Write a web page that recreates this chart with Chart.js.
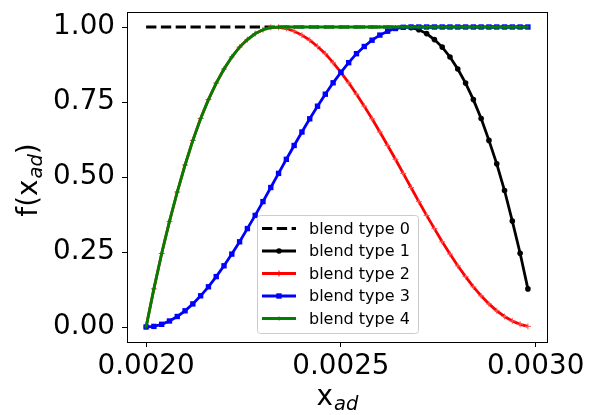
<!DOCTYPE html>
<html><head><meta charset="utf-8">
<script src="https://cdn.jsdelivr.net/npm/chart.js@4"></script>
<style>html,body{margin:0;padding:0;background:#fff}#wrap{width:589px;height:415px;position:relative}</style>
</head><body><div id="wrap"><canvas id="c"></canvas></div>
<script>
const xValues = [0.00200,0.00202,0.00204,0.00206,0.00208,0.00210,0.00212,0.00214,0.00216,0.00218,
  0.00220,0.00222,0.00224,0.00226,0.00228,0.00230,0.00232,0.00234,0.00236,0.00238,
  0.00240,0.00242,0.00244,0.00246,0.00248,0.00250,0.00252,0.00254,0.00256,0.00258,
  0.00260,0.00262,0.00264,0.00266,0.00268,0.00270,0.00272,0.00274,0.00276,0.00278,
  0.00280,0.00282,0.00284,0.00286,0.00288,0.00290,0.00292,0.00294,0.00296,0.00298];

const blendType0 = [1,1,1,1,1,1,1,1,1,1, 1,1,1,1,1,1,1,1,1,1, 1,1,1,1,1,1,1,1,1,1,
  1,1,1,1,1,1,1,1,1,1, 1,1,1,1,1,1,1,1,1,1];
const blendType1 = [null,null,null,null,null,null,null,null,null,null,
  null,null,null,null,null,null,null,null,null,null, null,null,null,null,null,
  null,null,null,null,null,null,null,null,null,
  0.998,0.991,0.978,0.958,0.933,0.900,0.860,0.813,0.758,0.695,0.622,0.544,0.455,0.353,0.246,0.127];
const blendType2 = [0,0.127,0.245,0.352,0.450,0.540,0.622,0.695,0.758,0.813,0.860,0.900,0.933,0.958,0.978,0.991,0.999,
  0.999,0.995,0.986,0.973,0.956,0.935,0.911,0.881,0.849,0.814,0.776,0.736,0.694,0.650,0.605,0.559,0.512,
  0.465,0.418,0.372,0.328,0.284,0.243,0.204,0.168,0.134,0.104,0.077,0.054,0.035,0.020,0.009,0.002];
const blendType3 = [0,0.002,0.009,0.020,0.035,0.054,0.077,0.104,0.134,0.168,0.204,0.243,0.284,0.328,0.372,0.418,0.465,
  0.512,0.559,0.605,0.650,0.694,0.736,0.776,0.814,0.849,0.881,0.911,0.935,0.956,0.973,0.986,0.995,0.999,
  1,1,1,1,1,1,1,1,1,1,1,1,1,1,1,1];
const blendType4 = [0,0.127,0.245,0.352,0.450,0.540,0.622,0.695,0.758,0.813,0.860,0.900,0.933,0.958,0.978,0.991,0.998,
  1,1,1,1,1,1,1,1,1,1,1,1,1,1,1,1,1, 1,1,1,1,1,1,1,1,1,1,1,1,1,1,1,1];

const seriesLabels = ['blend type 0','blend type 1','blend type 2','blend type 3','blend type 4'];
const xTickValues = [0.0020, 0.0025, 0.0030];
const xTickLabels = ['0.0020','0.0025','0.0030'];
const yTickValues = [0, 0.25, 0.5, 0.75, 1.0];
const yTickLabels = ['0.00','0.25','0.50','0.75','1.00'];

const FONT = "'DejaVu Sans', sans-serif";
function pts(ys){ return xValues.map((x,i)=>({x:x, y:ys[i]})); }

function drawMarker(ctx, style, r, x, y, color, bw){
  ctx.save();
  ctx.fillStyle = color; ctx.strokeStyle = color; ctx.lineWidth = bw;
  ctx.beginPath();
  if (style === 'circle') { ctx.arc(x, y, r, 0, Math.PI*2); ctx.fill(); }
  else if (style === 'rect') { const s = r*Math.SQRT1_2; ctx.rect(x-s, y-s, 2*s, 2*s); ctx.fill(); }
  else if (style === 'cross') { ctx.moveTo(x, y-r); ctx.lineTo(x, y+r); ctx.moveTo(x-r, y); ctx.lineTo(x+r, y); ctx.stroke(); }
  ctx.restore();
}

const framePlugin = {
  id: 'frame',
  afterDatasetsDraw(chart){
    const ctx = chart.ctx, a = chart.chartArea;
    ctx.save();
    ctx.strokeStyle = '#000'; ctx.lineWidth = 1;
    ctx.strokeRect(Math.round(a.left)+0.5, Math.round(a.top)+0.5, Math.round(a.right-a.left), Math.round(a.bottom-a.top));
    // legend
    const bx = 257, by = 215, bw = 161, bh = 118;
    ctx.beginPath();
    ctx.roundRect(bx+0.5, by+0.5, bw, bh, 3);
    ctx.fillStyle = 'rgba(255,255,255,0.8)'; ctx.fill();
    ctx.strokeStyle = '#cccccc'; ctx.lineWidth = 1; ctx.stroke();
    chart.data.datasets.forEach((ds, i) => {
      const y = by + 13.5 + i*22.5;
      ctx.beginPath();
      ctx.setLineDash(ds.borderDash || []);
      ctx.strokeStyle = ds.borderColor; ctx.lineWidth = ds.borderWidth;
      ctx.moveTo(262, y); ctx.lineTo(296, y); ctx.stroke();
      ctx.setLineDash([]);
      if (ds.pointRadius > 0) drawMarker(ctx, ds.pointStyle, ds.pointRadius, 279, y, ds.borderColor, ds.pointBorderWidth || 0);
      ctx.fillStyle = '#000'; ctx.font = '16px ' + FONT;
      ctx.textBaseline = 'middle'; ctx.textAlign = 'left';
      ctx.fillText(ds.label, 309, y + 1);
    });
    ctx.restore();
  },
  afterDraw(chart){
    const ctx = chart.ctx, a = chart.chartArea;
    ctx.save();
    ctx.fillStyle = '#000'; ctx.textBaseline = 'alphabetic'; ctx.textAlign = 'left';
    const big = '27.8px ' + FONT, sub = 'italic 19.5px ' + FONT;
    // x title
    ctx.font = big; const wx = ctx.measureText('x').width;
    ctx.font = sub; const wad = ctx.measureText('ad').width;
    let x0 = (a.left + a.right)/2 - (wx + wad)/2;
    ctx.font = big; ctx.fillText('x', x0, 405);
    ctx.font = sub; ctx.fillText('ad', x0 + wx + 1, 410);
    // y title
    ctx.translate(37, 180);
    ctx.rotate(-Math.PI/2);
    ctx.font = big; const w1 = ctx.measureText('f(x').width, w3 = ctx.measureText(')').width;
    ctx.font = sub; const w2 = ctx.measureText('ad').width;
    let s = -(w1 + w2 + w3 + 1)/2;
    ctx.font = big; ctx.fillText('f(x', s, 0);
    ctx.font = sub; ctx.fillText('ad', s + w1 + 1, 5);
    ctx.font = big; ctx.fillText(')', s + w1 + w2 + 1, 0);
    ctx.restore();
  }
};

const gridOpts = { drawOnChartArea: false, drawTicks: true, tickLength: 5, color: '#000', lineWidth: 1 };

new Chart(document.getElementById('c'), {
  type: 'line',
  data: {
    datasets: [
      { label: seriesLabels[0], data: pts(blendType0), borderColor: '#000000', borderWidth: 2.8, borderDash: [10.3, 4.5], pointRadius: 0, order: 5 },
      { label: seriesLabels[1], data: pts(blendType1), borderColor: '#000000', borderWidth: 2.8, pointStyle: 'circle', pointRadius: 2.8, pointBorderWidth: 0, pointBackgroundColor: '#000000', pointBorderColor: '#000000', order: 4 },
      { label: seriesLabels[2], data: pts(blendType2), borderColor: '#ff0000', borderWidth: 2.8, pointStyle: 'cross', pointRadius: 3, pointBorderWidth: 1, pointBackgroundColor: '#ff0000', pointBorderColor: '#ff5555', order: 3 },
      { label: seriesLabels[3], data: pts(blendType3), borderColor: '#0000ff', borderWidth: 2.8, pointStyle: 'rect', pointRadius: 3.8, pointBorderWidth: 0, pointBackgroundColor: '#0000ff', pointBorderColor: '#0000ff', order: 2 },
      { label: seriesLabels[4], data: pts(blendType4), borderColor: '#008000', borderWidth: 2.8, pointStyle: 'cross', pointRadius: 2, pointBorderWidth: 1, pointBackgroundColor: '#008000', pointBorderColor: '#008000', order: 1 }
    ]
  },
  options: {
    responsive: true, maintainAspectRatio: false, animation: false, devicePixelRatio: 1,
    layout: { padding: { top: 12, right: 42, left: 0, bottom: 0 } },
    elements: { line: { tension: 0 } },
    plugins: { legend: { display: false }, tooltip: { enabled: false } },
    scales: {
      x: {
        type: 'linear', min: 0.001951, max: 0.003029,
        afterBuildTicks: s => { s.ticks = xTickValues.map(v => ({ value: v })); },
        afterFit: s => { s.height = 73; s.paddingLeft = 0; s.paddingRight = 0; },
        ticks: { callback: (v, i) => xTickLabels[i], font: { family: FONT, size: 27.8 }, color: '#000', padding: 3, maxRotation: 0, autoSkip: false },
        grid: gridOpts, border: { display: false }
      },
      y: {
        type: 'linear', min: -0.05, max: 1.05,
        afterBuildTicks: s => { s.ticks = yTickValues.map(v => ({ value: v })); },
        afterFit: s => { s.width = 127; s.paddingTop = 0; s.paddingBottom = 0; },
        ticks: { callback: (v, i) => yTickLabels[i], font: { family: FONT, size: 27.8 }, color: '#000', padding: 7, autoSkip: false },
        grid: gridOpts, border: { display: false }
      }
    }
  },
  plugins: [framePlugin]
});
</script>
</body></html>
